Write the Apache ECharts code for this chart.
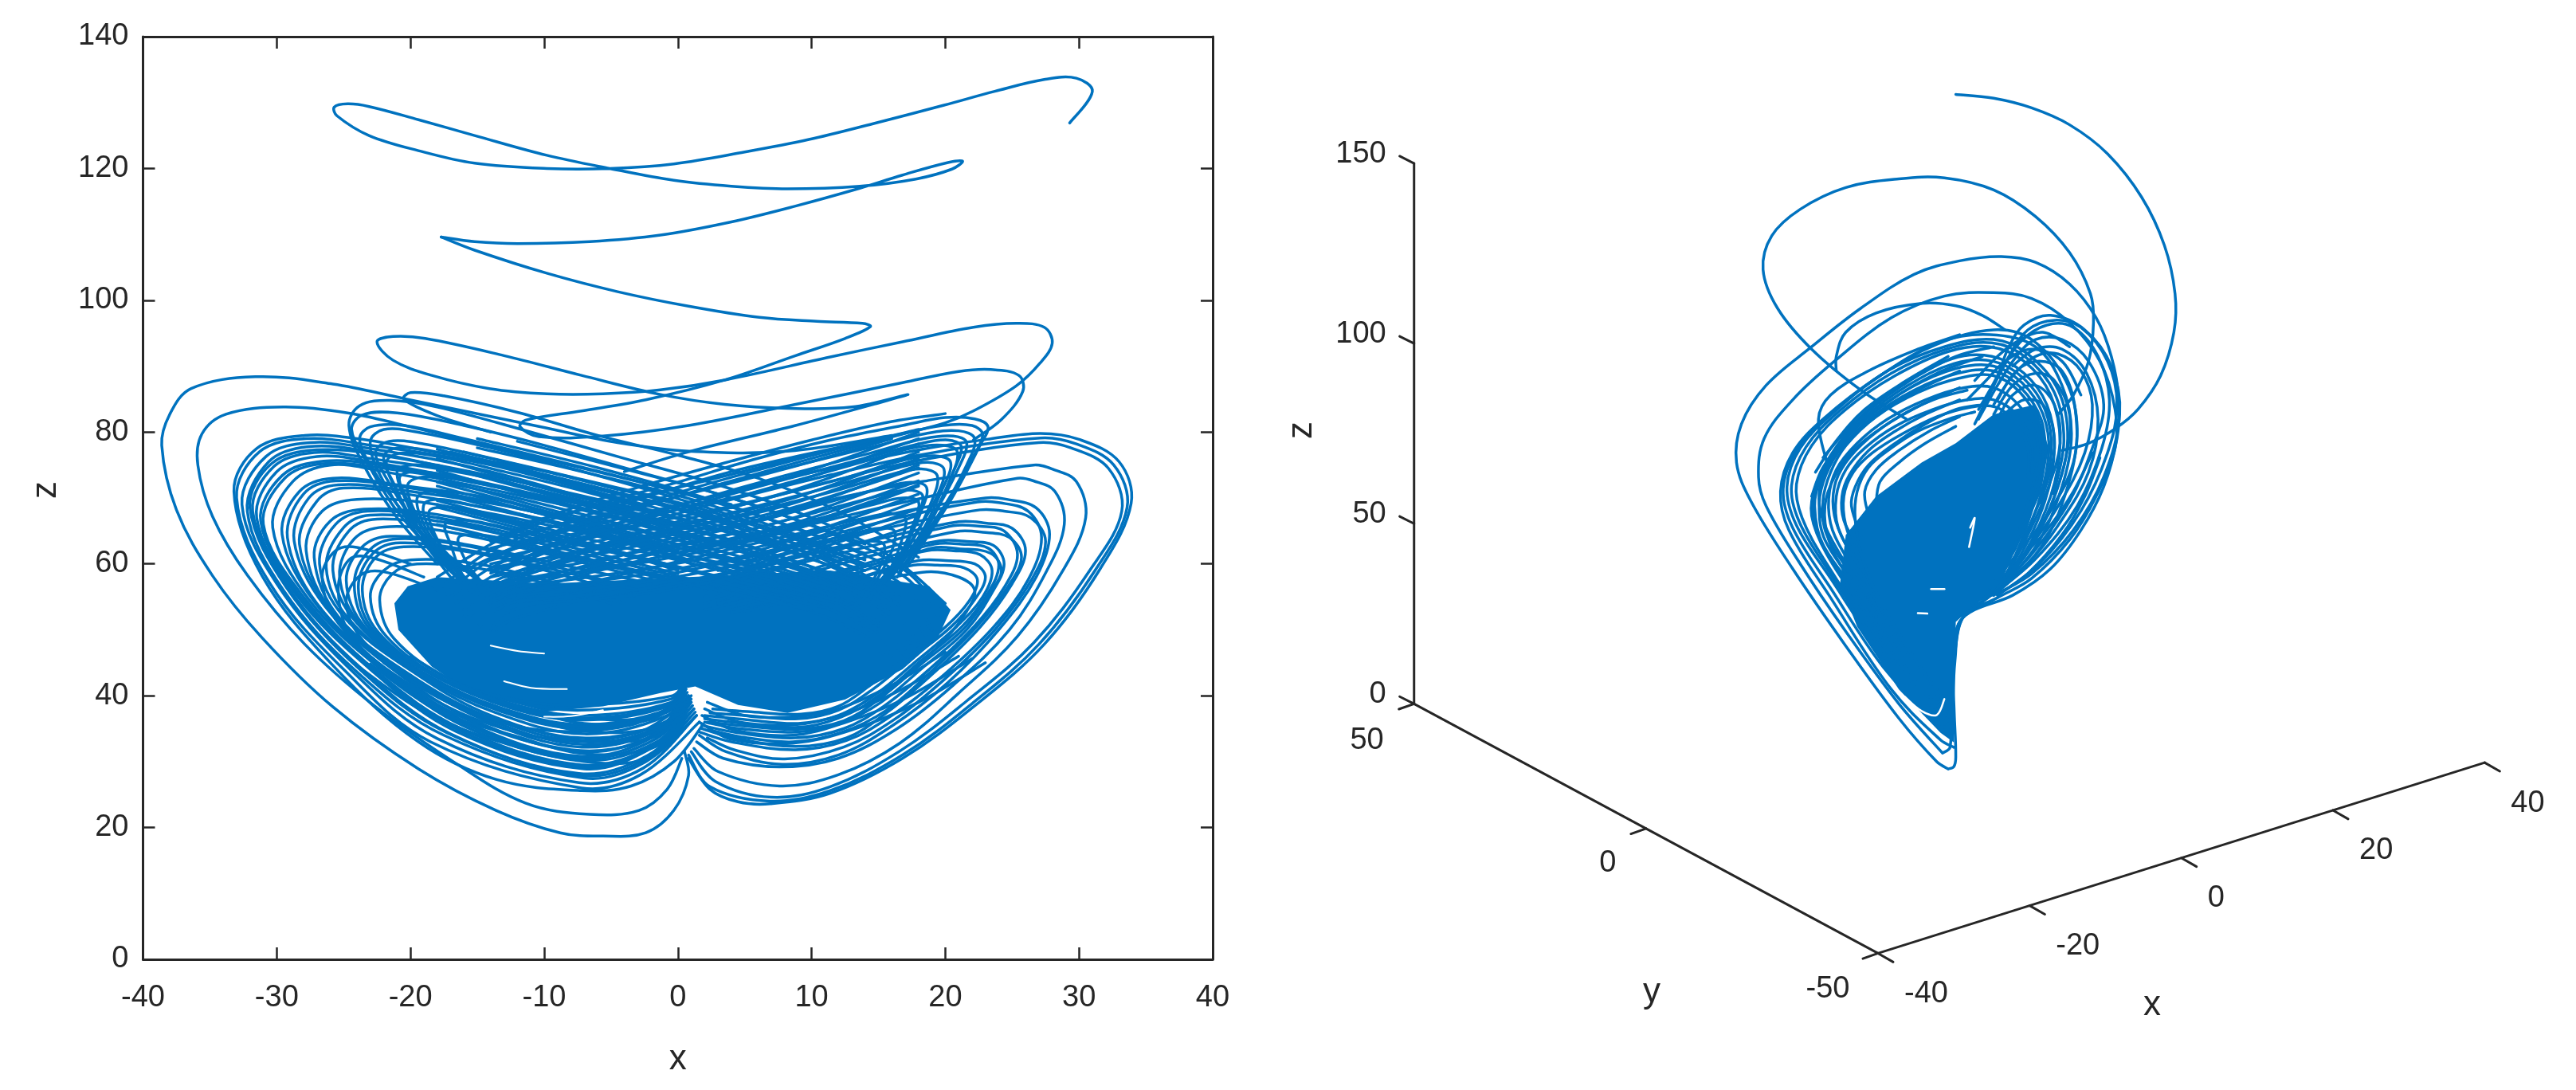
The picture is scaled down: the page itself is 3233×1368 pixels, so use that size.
<!DOCTYPE html>
<html><head><meta charset="utf-8"><style>html,body{margin:0;background:#fff}#c{width:3233px;height:1368px}</style>
<script src="https://cdn.jsdelivr.net/npm/echarts@6/dist/echarts.min.js"></script></head><body><div id="c"></div><script>
const xTicksLeft=[-40,-30,-20,-10,0,10,20,30,40];
const zTicksLeft=[0,20,40,60,80,100,120,140];
const xTicks3d=[-40,-20,0,20,40], yTicks3d=[50,0,-50], zTicks3d=[0,50,100,150];

// left panel (x,z): opening transient
const transientA=[[29.3,126.9],[31,131.7],[29.8,133.7],[27.4,133.5],[23.7,131.7],[19.9,129.6],[14.6,126.8],[9.8,124.4],[5,122.5],[-.3,120.7],[-5.1,120],[-9.8,120],[-15.2,120.8],[-19.4,122.7],[-23.1,125],[-25.5,128],[-25.7,129.3],[-24.7,129.8],[-23.1,129.4],[-19.4,127.4],[-15.2,125],[-9.8,122],[-5.1,120],[-.3,118.2],[4,117.3],[8.2,116.9],[13.6,117.3],[17.8,118.4],[20.5,119.9],[21.3,121.1],[20.2,120.9],[16.8,119],[13.6,117],[8.8,114.3],[4,111.9],[-1.3,109.9],[-6.6,108.9],[-12,108.6],[-15.2,108.9],[-17.7,109.6]];
const transientB=[[-17.7,109.6],[-15.2,107.6],[-9.8,104.1],[-4.5,101.3],[.8,99.1],[6.1,97.4],[10.4,96.8],[13.8,96.5],[14.4,96],[12.5,94.2],[8.8,91.6],[3.5,87.9],[-2.4,84.9],[-7.2,83.2],[-11.4,81.8],[-11.8,80.8],[-10.4,79.3],[-5.6,79.4],[.8,81],[8.8,84.2],[16.8,87.5],[21,89.2],[23.4,89.5],[25.5,88.6],[25.8,86.2],[24.2,81.9],[22.1,78.8]];
const transientC=[[-4,74],[.8,77],[8.8,81],[14.6,84.2],[17.2,85.7],[13,83.8],[8.2,83.6],[3.5,84.2],[-1.3,85.7],[-7.2,88.6],[-13,91.6],[-18.9,94.2],[-21.3,94.5],[-22.5,93.7],[-21.3,90.9],[-18.4,88.6],[-14.1,86.6],[-9.8,85.8],[-5.6,85.8],[-1.3,86.4],[3.5,87.9],[11.4,91.4],[16.8,93.7],[22.1,95.9],[25.3,96.5],[27.4,95.9],[28,93.5],[27.1,90.5],[25.3,87],[22.1,83.2],[20,81.4],[16.8,79.7],[10,76],[3,72]];
const outerLeft1=[[.5,31.5],[.8,27.9],[-.3,22.6],[-2.4,19.2],[-5.6,18.7],[-8.8,19.2],[-13.6,22.6],[-19.4,28.9],[-25.8,38.3],[-31.1,48.8],[-34.8,58.2],[-37.5,68.2],[-38.6,78],[-38,82.7],[-36.4,86.6],[-31.6,88.4],[-25.8,87.3],[-20.5,85.1],[-9.8,80.6],[-4.5,78.4],[.8,77.1],[8.2,77.1],[16,79.5]];
const outerLeft2=[[.3,30.5],[-.8,25.8],[-2.9,22.6],[-6.6,22],[-11.4,23.7],[-16.8,30],[-22.6,38.3],[-27.9,47.8],[-32.2,58.3],[-34.8,67.2],[-35.9,75],[-35.6,79.7],[-33.8,82.7],[-29.5,83.8],[-24.7,82.9],[-19.4,80.5],[-9.8,75.8],[-3,72.5],[4,69]];

const leftLobes=[
[[-4.5,71.3],[-9.8,74],[-18.3,77],[-24,79],[-27.9,79.5],[-31.5,77.5],[-33.2,71],[-31.1,58.2],[-25.8,44.6],[-19.4,33],[-13.6,27.3],[-7.2,25.6],[-3.5,26.3],[-.3,30],[1.9,35.7]],
[[-3,69],[-14,75],[-23,78],[-27.8,79],[-31.3,77],[-33,70],[-30.5,57],[-25,44],[-18.5,33],[-7.2,26],[-2.8,28],[1.6,36]],
[[-2,67],[-14,74],[-23,77.5],[-27.5,78.4],[-30.8,76.3],[-32.6,69],[-30,57],[-24.6,44.2],[-18,33.5],[-7.4,26.8],[-2.6,29],[1.4,37]],
[[-1,66],[-14,73],[-23,77],[-27.6,77.8],[-30.6,75.5],[-32.2,68],[-29.5,56],[-24,43.6],[-17.5,34],[-7,27.5],[-2.4,30],[1.4,37]],
[[0,65],[-13,72.5],[-23,76],[-27.2,76.9],[-30.2,74.8],[-31.8,68],[-29,56],[-23.6,44],[-17,34.2],[-7.4,28.2],[-2.2,31],[1.2,38]],
[[1,64],[-13,71.5],[-23,75.5],[-27,76.3],[-30,74],[-31.5,67],[-28.6,55.5],[-23,44],[-16.6,34.6],[-7,28.9],[-2,32],[1.2,38]],
[[2,63],[-12,71],[-22,74.5],[-26.6,75.2],[-29.4,73],[-31,66],[-28,55],[-22.6,43.8],[-16.2,35],[-7.2,29.5],[-1.8,32.5],[1,39]],
[[3,62],[-12,70],[-22,74],[-26,75],[-28.8,72.5],[-30.3,65.5],[-27.6,54.6],[-22.2,44],[-15.8,35.2],[-7,30.2],[-1.6,33],[1,39]],
[[-1,63],[-12,68.5],[-20,71.5],[-25.6,72.6],[-28,70.6],[-29.2,64],[-27,54],[-21.8,44],[-15.4,35.6],[-7.2,30.8],[-1.6,34],[1,40]],
[[0,62],[-11,68],[-20,71],[-25.4,72],[-27.6,70],[-28.7,63.5],[-26.4,53.6],[-21.2,43.8],[-15,36],[-7,31.5],[-1.4,34.5],[.8,40]],
[[1,60.5],[-11,67],[-20,70.5],[-25,71.5],[-27,69.5],[-28.3,63],[-26,53],[-20.8,43.8],[-14.6,36.4],[-7.2,32.2],[-1.2,35],[.8,40]],
[[-1,60],[-10,64],[-18,67.5],[-23.5,68.3],[-26,66.5],[-27.2,61],[-25.4,52],[-20.2,43.4],[-14.2,36.8],[-7,33],[-1.2,35.5],[.6,41]],
[[0,58.5],[-10,63.5],[-18,67],[-23.2,68],[-25.6,66],[-26.8,60],[-25,52],[-19.8,43.6],[-14,37],[-7.2,33.6],[-1,36],[.6,41]],
[[-2,59],[-10,63],[-18,66.5],[-23,67.4],[-25,65.5],[-26.3,59.5],[-24.6,51.6],[-19.4,43.2],[-13.6,37.4],[-7,34.2],[-.8,37],[.6,41]],
[[-1,58],[-10,62],[-17,65.5],[-22.5,66.8],[-24.6,65],[-25.8,59],[-24,51],[-19,43],[-13.2,37.6],[-7.2,35],[-.8,37.5],[.5,41]],
[[-2,57],[-9,60],[-16,63],[-21.5,64.2],[-23.6,62.6],[-24.8,57.5],[-23.4,50.4],[-18.6,43],[-13,38],[-7,35.6],[-.6,38],[.5,41]],
[[-3,56],[-9,59.5],[-16,62.8],[-21,63.8],[-23,62.2],[-24.2,57],[-23,50],[-18.2,43],[-12.6,38.2],[-7.2,36.3],[-.6,38.5],[.5,42]],
[[-3,55],[-9,58.5],[-15,61.6],[-20.5,62.6],[-22.6,61],[-23.6,56],[-22.4,49.6],[-17.8,42.6],[-12.2,38.6],[-7,37],[-.5,39],[.5,42]],
[[-4,54],[-9,57],[-15,60],[-20,60.6],[-22,59],[-23,55],[-21.8,49],[-17.4,42.4],[-12,39],[-7.2,37.8],[-.5,39.5],[.5,42]],
[[-5,54],[-9,56.5],[-14,59],[-19.5,60],[-21.4,58.4],[-22.3,54.5],[-21.2,48.6],[-17,42.4],[-11.6,39.2],[-7,38.6],[-.4,40],[.5,42]],
[[2,66],[-12,72.5],[-22,76.4],[-27,77.3],[-30.4,75.2],[-32,68.5],[-29.3,56.5],[-23.8,44],[-17.3,34.4],[-7.2,27.9],[-2.3,30.5],[1.3,37.5]],
[[3,65],[-12,71],[-22,74.9],[-26.5,75.6],[-29.6,73.4],[-31.2,66.5],[-28.3,55.2],[-22.8,44],[-16.4,34.8],[-7.1,29.2],[-1.9,32.2],[1.1,38.5]],
[[1,60],[-12,69],[-21,72],[-25.8,73],[-28.3,71],[-29.6,64.5],[-27.2,54.3],[-22,44],[-15.6,35.4],[-7.1,30.5],[-1.6,33.5],[1,39.5]],
[[0,59],[-10,65],[-18,69],[-24,69.8],[-26.6,68],[-27.8,62],[-25.8,52.6],[-20.5,43.6],[-14.4,36.6],[-7.1,32.6],[-1.2,35.2],[.7,40.5]],
[[-2,57.6],[-10,61.6],[-17,64.8],[-22,65.6],[-24.2,63.8],[-25.3,58.2],[-23.7,50.7],[-18.8,43],[-13.1,37.8],[-7.1,35.3],[-.7,37.8],[.5,41]],
[[-3,56],[-9,59],[-15.5,62],[-20.8,63.2],[-22.8,61.6],[-23.9,56.5],[-22.7,49.8],[-18,42.8],[-12.4,38.4],[-7.1,36.6],[-.5,38.8],[.5,42]],
[[-20,60],[-24,62.5],[-25.6,62],[-26.6,58],[-25.4,51],[-20.6,42.2],[-15.2,35.9],[-8,31.8],[-3,32.8],[0,37]],
[[-19,58],[-23,61],[-24.6,60.6],[-25.4,56],[-24.4,49],[-20,41.6],[-14.8,36.2],[-8.4,33.2],[-3,34.4],[0,38]],
[[-18,56],[-22,58.8],[-23.8,58.2],[-24.8,54],[-23.4,48],[-19.2,41.2],[-14,36.4],[-9,34.6],[-3.4,35.6],[0,39]]
];
const rightLobes=[
[[.8,30.5],[2.4,25.8],[4.5,23.9],[6.9,23.6],[11.4,25.2],[16.8,30.5],[22.1,38.3],[27.4,47.8],[31.6,59.3],[33.9,69.2],[33,75.5],[30,78.9],[27.1,79.8],[23.1,78.9],[18.3,77.4],[11.4,74.5],[3.5,70.8]],
[[.8,31],[2.4,26.2],[6.9,24],[11.4,25.6],[16.8,31],[22,38.8],[27,47.8],[31.2,59],[33.6,68.6],[32.6,75],[29.8,78.2],[27.1,79.1],[18.3,76.6],[11.4,73.5],[3.5,69.5]],
[[1,31.5],[2.8,27],[7,24.6],[11.4,26.2],[16.6,31.6],[21.6,39.2],[26.6,48],[30.8,59],[33.2,68],[32.2,74.5],[29.4,77.6],[27,78.4],[18.3,75.8],[11.4,72.5],[4,68.5]],
[[1.2,32],[3,28.5],[7.6,26.3],[12,28],[16.6,32.8],[21,40.4],[25.4,49],[28.8,59],[30.5,67],[29.8,72.5],[28,74.4],[26.6,75],[18.3,72.5],[11,69.5],[4,65.5]],
[[1.4,33],[3.4,30.5],[7.6,29.2],[12,30.5],[16.4,35],[20.6,41.6],[24.8,50],[27.6,59],[28.9,66],[28.2,71],[26.6,72.6],[25.4,73],[18.3,70],[11,66.5],[4,63]],
[[1.6,34],[3.6,31.5],[7.8,29.6],[12,31],[16,35.4],[20.2,42],[24,50],[26.8,58],[27.8,64.5],[26.8,68.5],[24.6,69.8],[23,70],[17,68],[10,64.5],[3,60]],
[[1.6,34.5],[4,33],[8.8,31.8],[12.6,33.2],[16,37],[19.8,43],[23.6,50.4],[26.2,57.6],[27.2,64],[26.2,68],[24,69.3],[22.4,69.4],[16.5,67],[10,63.5],[3,59]],
[[1.8,35],[4.2,33.6],[8.8,32.3],[12.6,33.6],[15.6,37.4],[19.2,43.6],[22.6,50.4],[25,57],[26,62],[25,65.4],[23,66.2],[21,66.4],[15.5,64],[9,61],[2,57]],
[[1.8,35.5],[4.4,34.4],[8.8,33.6],[12.4,35],[15.4,38.4],[18.8,44],[22.2,50.6],[24.4,56.4],[25.4,61.4],[24.4,65],[22.6,65.7],[20.6,65.8],[15,63],[9,60],[2,56]],
[[2,36],[4.6,35],[8.8,34.5],[12.2,35.8],[15.2,39],[18.4,44.4],[21.6,50],[23.6,56],[24.4,60],[23.6,62.8],[21.6,63.4],[19.6,63.5],[14,61],[8,57.5],[2,54]],
[[2,36.5],[4.8,35.8],[9,35.2],[12,36.6],[15,39.8],[18,45],[21.2,50.4],[23.2,55.6],[24,59.8],[23.2,62.4],[21.2,63],[19.2,63],[14,60],[8,56.5],[3,54]],
[[2,37],[5,36.4],[9,35.8],[12,37],[14.8,40.2],[17.8,45.2],[20.8,50.4],[22.8,55],[23.5,59],[22.6,61.4],[20.6,62],[18.6,62],[13,59],[8,56],[3,53.6]],
[[2.4,37.4],[5,37],[9,36.5],[12,37.8],[14.6,41],[17.4,45.6],[20.4,50.4],[22.2,54.6],[23,58],[22.2,60],[20,60.5],[18,60.5],[13,57.6],[8,55],[4,53]],
[[2.6,38],[5.2,37.6],[9.2,37.2],[12,38.4],[14.4,41.6],[17.2,46],[20,50.4],[21.8,54.4],[22.4,57.6],[21.4,59.4],[19.4,59.8],[17.6,59.8],[12,57],[8,54.4],[4,52.6]],
[[2.2,33.6],[4.2,31.8],[8,30.4],[12.4,32.2],[16.2,36.4],[20,42.6],[23.8,50.2],[26.4,57.4],[27.5,63.4],[26.4,67],[24.4,68],[22.6,68.2],[16,65.6],[9,62],[3,58]],
[[2.4,34.8],[4.6,33.8],[8.6,33],[12.2,34.4],[15.6,37.8],[19,43.8],[22.4,50.6],[24.7,56.6],[25.7,61],[24.8,64],[22.8,64.8],[20.8,64.9],[14,61.6],[8,58],[2,55]],
[[2.2,36],[5,35.4],[9,34.9],[12.4,36.2],[15,39.4],[18.2,44.8],[21.4,50.2],[23.4,55.8],[24.2,59],[23.4,61.6],[21,62.3],[19,62.4],[13,58.4],[7,55.4],[2,53]],
[[14,38.6],[17,43],[20,48.6],[21.6,52.8],[22.2,56],[21,58],[18.6,58.8],[14,57],[9,54.6],[5,52.8]]
];
const leftWings=[
[[-18,60],[-21,67],[-23.5,75],[-24.6,81],[-23.8,84],[-21.5,84.8],[-18,83.8],[-11,80],[-4,76],[3,72],[10,67],[16,61],[20,54]],
[[-17.5,60],[-21,68],[-23.4,76],[-24.4,80.4],[-23.6,82.6],[-21,82.9],[-16,81],[-10,78],[-3,74],[4,70],[11,65],[17,59],[20,52]],
[[-17,60],[-20.6,68],[-23,75],[-23.8,79],[-23,80.8],[-20.5,81],[-16,79],[-9,75.6],[-2,72],[5,68],[12,63],[17,58],[19.5,52]],
[[-17,58],[-20,66],[-22.4,74],[-23,78.6],[-22,80.4],[-19.5,80],[-14,77.6],[-8,74.5],[-1,70.5],[6,66],[12,61.6],[17,56.5],[19,50]],
[[-16.5,58],[-19.6,66],[-21.8,73],[-22.6,77],[-21.6,78.6],[-19,78.2],[-14,76],[-7,72.6],[0,69],[6,65],[12,60.4],[16.5,55],[19,50]],
[[-16,57],[-19,64],[-21,71],[-21.8,75.4],[-20.8,76.8],[-18,76.3],[-13,74],[-7,71],[0,67],[7,63],[12.5,58.6],[16.6,53.6],[18.6,49]],
[[-15.5,56],[-18.4,62],[-20.2,69],[-21,74],[-20,75],[-17.6,74.6],[-12,72],[-6,69],[1,65.4],[7,61.6],[12,57.8],[16,53],[18,48]],
[[-15,56],[-18,62],[-19.6,67.6],[-20.2,72],[-19,73.2],[-16.6,72.4],[-11,70],[-5,67.4],[1,64],[7,60.4],[12,56.6],[15.6,52],[17.4,48]],
[[-15,55],[-17.4,61],[-19,66],[-19.5,70],[-18.4,71],[-16,70.2],[-11,68],[-5,65.4],[1,62.4],[6.5,59],[11.5,55.4],[15,51],[17,47]],
[[-14.5,55],[-16.8,60],[-18.2,64.6],[-18.6,68],[-17.4,68.6],[-15,68],[-10,66],[-4,63.2],[2,60],[7,57.4],[12,54],[15,50],[17,46]],
[[-14,54],[-16,58],[-17,63],[-17.4,66],[-16,66.6],[-14,66],[-9,63.6],[-3,61],[2,58.6],[7,56],[11.5,53],[14.6,49.6],[16,46]],
[[-13,54],[-15,58],[-16,61],[-16.4,64],[-15,64.4],[-13,63.8],[-8,61.4],[-3,59],[2,57],[7,54.6],[11,52],[14,49],[15.5,46]],
[[-14,80],[-18,82.5],[-20.5,85],[-20,86],[-17.5,85.5],[-12,83],[-6,79.5],[0,76.5],[6,73],[12,68],[18,61]],
[[-16,59],[-19.4,65],[-21.2,72],[-22,76.2],[-21,77.6],[-18.6,77.2],[-13.4,75],[-7,71.8],[.4,68],[6.6,64],[12,59.6],[16,54.4]],
[[-15,58],[-18.6,64],[-20.4,70.4],[-20.8,73.2],[-19.6,74],[-17,73.4],[-11.6,71],[-5.6,68.2],[.8,64.6],[7,61],[12,57.2],[15.8,52.4]],
[[-14,56],[-17,61],[-18.6,65.4],[-19,69],[-17.8,69.8],[-15.6,69],[-10.6,67],[-4.6,64.2],[1.4,61],[7,58.2],[11.8,54.8],[15,50.6]]
];
const rightWings=[
[[17,59],[20.5,70],[22.6,78],[23.2,80.8],[22.2,82],[20,82.2],[16.8,81],[11.4,78.8],[5.6,75.8],[0,72.4],[-6,69],[-13,64],[-18,58]],
[[16.6,59],[20,69],[22,76],[22.8,79.6],[22,81],[19.8,81],[16,79.4],[10,76.8],[4,74],[-2,70.4],[-8,66.6],[-14,62],[-18,56]],
[[16.4,58],[19.6,67.6],[21.6,75],[22.2,79],[21,80.2],[18.6,79.8],[15,78],[9,75],[3,72],[-3,68.4],[-9,64.6],[-14,60.6],[-17.6,55]],
[[16,58],[19,67],[21,74.6],[21.6,78.4],[20.6,79.4],[18.4,79],[14,76.6],[8,73.4],[2,70],[-4,66.4],[-9.5,63],[-14,59.4],[-17,55]],
[[15.6,57],[18.6,65.6],[20.4,73],[20.9,77],[19.8,78],[17.6,77.6],[13,75],[7,71.6],[1,68.2],[-5,64.8],[-10,61.6],[-14,58],[-16.6,54]],
[[15.4,57],[18,64],[19.8,71.4],[20.4,75.4],[19.2,76.4],[17,75.8],[12.4,73],[6,69.6],[0,66.4],[-5.6,63],[-10.4,60],[-14,57],[-16,53]],
[[15,56],[17.4,63],[19,69.6],[19.4,73.4],[18.2,74.4],[16,73.6],[11.6,71],[5,67.6],[-1,64.6],[-6,61.6],[-10.6,58.8],[-14,56],[-16,52]],
[[14.6,56],[16.8,62],[18.2,68],[18.6,71.6],[17.4,72.4],[15,71.4],[10.6,69],[4.4,65.6],[-1.6,62.8],[-6.4,60],[-10.8,57.6],[-14,55],[-15.6,52]],
[[14.4,55],[16.4,60.4],[17.6,66],[18,69.4],[16.8,70],[14.6,69],[10,66.6],[4,63.6],[-2,60.8],[-7,58.4],[-11,56],[-14,53.6],[-15,51]],
[[14,55],[15.8,59],[16.8,64],[17,67],[15.8,67.6],[13.6,66.8],[9,64.6],[3.4,62],[-2.4,59.2],[-7,57],[-11,55],[-13.6,53],[-15,50]],
[[13.6,54],[15,58],[16,62],[16.2,65],[15,65.4],[12.8,64.4],[8.4,62.4],[3,60],[-2.6,57.6],[-7,55.8],[-10.6,54],[-13,52.4],[-14,50]],
[[13,54],[14.4,57],[15.2,60],[15.4,63],[14,63.4],[12,62.6],[8,60.6],[3,58.4],[-2,56.4],[-6.6,54.8],[-10,53],[-12.6,51.4],[-13.6,50]],
[[15.8,58],[18.8,66],[20.6,74],[21.2,77.8],[20.2,78.8],[18,78.2],[13.6,75.8],[7.6,72.6],[1.6,69.2],[-4.4,65.6],[-9.8,62.4],[-14,58.6]],
[[15.2,57],[17.8,64.6],[19.4,70.4],[19.9,74.4],[18.7,75.4],[16.5,74.6],[12,72],[5.6,68.6],[-.4,65.4],[-5.8,62.4],[-10.5,59.4],[-14,56.6]],
[[14.4,56],[16.6,61],[17.9,67],[18.3,70.4],[17.1,71.2],[14.8,70.2],[10.3,67.8],[4.2,64.6],[-1.8,61.8],[-6.7,59.2],[-10.9,56.8],[-14,54.4]],
[[20,82.8],[16,81.6],[10,78.8],[4,75.6],[-2,72.2],[-8,68.4],[-14,63.6]],
[[18,80.4],[13,78],[7,74.8],[1,71.4],[-5,67.6],[-11,63.6],[-16,59]]
];
const crossDown=[
[[-18,66],[-8,61],[2,56.4],[10,53]],[[-18,67],[-8,62],[2,57.2],[11,53.4]],[[-18,68.6],[-8,63.4],[2,58.4],[11,54]],[[-18,69.6],[-8,64.4],[2,59.6],[12,54.4]],
[[-18,70.8],[-8,65.6],[2,60.6],[12,55]],[[-18,71.8],[-8,66.4],[2,61.4],[12,55.8]],[[-18,73],[-8,67.4],[2,62.6],[13,56]],[[-18,74.2],[-8,68.6],[2,63.6],[13,56.8]],
[[-18,75],[-8,69.6],[2,64.6],[13,57.6]],[[-18,76],[-8,70.4],[2,65.8],[14,58]],[[-18,77.4],[-8,72],[2,66.4],[14,59]],[[-17,77],[-8,72.6],[2,67.4],[14,59.6]],
[[-16,77],[-8,73.2],[2,68.2],[14,60]],[[-15,77.6],[-8,74.4],[2,69.2],[14,60.6]],[[-15,79],[-6,74.6],[3,69.4],[14,61.6]],[[-12,78.6],[-4,74.4],[4,70],[14,63]],
[[-18,72.4],[-8,67],[3,61.4],[12,56.4]],[[-18,69],[-8,63.8],[3,58],[12,54]]
];
const crossUp=[
[[-12,53.8],[-2,55.6],[8,59.8],[18,66]],[[-12,54.4],[-2,56.4],[8,60.8],[18,67.4]],[[-12,55.2],[-2,57.4],[8,61.6],[18,68.4]],[[-12,55.8],[-2,58.6],[8,62.6],[18,69.6]],
[[-12,56.6],[-2,59.4],[8,63.6],[18,70.6]],[[-12,57.4],[-2,60.4],[8,64.8],[18,71.8]],[[-13,57.2],[-2,61.4],[8,65.8],[18,72.6]],[[-13,58],[-2,62.2],[8,66.6],[18,73.8]],
[[-14,58],[-2,63.2],[8,67.8],[18,75]],[[-14,59],[-2,64.4],[8,68.8],[18,76]],[[-14,60],[-2,65.2],[8,69.6],[18,77]],[[-14,60.6],[-2,66.2],[8,70.8],[18,78.2]],
[[-14,61.4],[-2,67.4],[8,72],[18,79]],[[-14,62.4],[-2,68],[8,73],[18,80]],[[-14,63.4],[-2,69.2],[8,74.4],[16,79]],[[-12,66],[-2,70.6],[8,75.6],[15,79]],
[[-14,59.4],[-2,63.8],[8,68.2],[18,74.6]],[[-13,56.8],[-2,60.8],[8,65.2],[18,72]]
];
const lowerArcs=[
[[-24,44.6],[-19,37.6],[-13,32.8],[-7,30],[-2.4,30.4],[.4,35]],[[-23,44.8],[-18,37.8],[-12,33.8],[-7,31.2],[-2,32],[.6,36]],[[-22,45],[-17,38.8],[-11.6,35.2],[-7,33.2],[-2,33.6],[.6,37]],
[[-21,45.4],[-16,40],[-11,36.6],[-7,34.6],[-2,35],[.6,38]],[[-20,46],[-15.6,41],[-11,38],[-7,36.6],[-2.4,36.6],[.6,39]],[[-21.6,47],[-16.4,41.4],[-11,37.8],[-7,35.8],[-2,36.4],[.6,40]],
[[23,45],[18,39],[13,34.8],[8.6,32.8],[4,33.4],[1.6,36]],[[22,45.6],[17,39.6],[12.6,36],[8.6,34],[4.2,34.8],[1.8,37]],[[21,46],[16.4,40.6],[12.4,37.2],[8.8,35.6],[4.6,36],[2,38]],[[20,46.6],[16,41.6],[12,38],[8.8,36.8],[5,37],[2.2,39]]
];
const coreLeft=[[-21.2,54],[-20.9,50],[-18.4,44.4],[-15.6,40.6],[-9.8,37.6],[-5.6,38.4],[-1.3,40.4],[1.3,41.4],[4.5,38.6],[8.2,37.4],[12.5,39.4],[16.8,44],[19.4,48.6],[20.4,53],[18.8,56.6],[11.4,59],[.8,58],[-9.8,57],[-18,58],[-20.2,56.6]];
const slitsLeft=[[[-13,42.2],[-11,41.2],[-8.3,41]],[[-10,36.8],[-8,36.9],[-5.6,37.8]],[[-14,47.6],[-12,46.8],[-10,46.4]]];

// right panel: trajectory read as horizontal / vertical view coordinates of the 3-D projection
const view3dA=[[850,47],[950,55],[1050,75],[1150,110],[1250,170],[1340,260],[1400,360],[1428,460],[1425,540],[1390,630],[1330,700],[1270,740],[1200,770],[1130,785]];
const view3dB=[[720,720],[600,660],[470,575],[380,490],[342,410],[365,340],[440,285],[560,240],[700,222],[820,220],[950,245],[1060,300],[1150,375],[1205,460],[1213,520],[1200,600],[1160,670],[1120,710]];
const view3dC=[[830,1445],[800,1430],[700,1340],[560,1190],[420,1030],[310,890],[272,810],[285,730],[350,650],[470,570],[600,490],[740,420],[860,392],[970,383],[1060,395],[1150,440],[1220,510],[1260,590],[1280,680],[1275,760],[1240,860],[1180,950],[1100,1030],[1000,1085],[900,1115],[860,1140],[848,1180],[843,1250],[846,1330],[850,1420],[845,1440],[830,1445]];
const view3dD=[[815,1412],[700,1310],[560,1160],[440,1020],[350,900],[330,840],[345,760],[420,680],[530,600],[680,510],[820,465],[950,458],[1050,470],[1150,520],[1230,600],[1270,700],[1270,780],[1220,880],[1150,970],[1050,1050],[960,1090],[870,1130],[848,1220],[835,1400],[815,1412]];
const view3dE=[[535,620],[535,590],[560,540],[640,500],[760,480],[850,485],[920,505],[980,535]];
const view3dF=[[510,810],[488,720],[520,670],[620,620],[750,575],[860,545]];
const bodyLoops=[
[[845,1400],[810,1385],[680,1280],[520,1090],[410,950],[388,870],[420,790],[500,720],[650,630],[800,565],[950,535],[1050,555],[1140,640],[1170,740],[1145,860],[1075,985],[960,1075],[870,1130],[848,1200]],
[[843,1370],[790,1340],[660,1235],[520,1070],[420,945],[395,865],[430,785],[510,715],[660,625],[810,560],[940,545],[1060,570],[1130,650],[1155,750],[1130,860],[1060,985],[950,1080],[860,1140],[845,1220]],
[[840,1350],[770,1310],[640,1190],[520,1050],[430,940],[405,860],[440,780],[530,705],[670,620],[820,570],[950,555],[1040,585],[1120,660],[1145,760],[1115,870],[1045,990],[950,1080]],
[[835,1330],[760,1290],[630,1160],[510,1020],[445,925],[430,855],[470,775],[560,700],[690,630],[830,580],[940,570],[1030,600],[1100,670],[1125,770],[1100,880],[1030,1000],[950,1085]],
[[830,1320],[740,1260],[620,1130],[510,1000],[470,920],[480,860],[520,795],[590,725],[710,650],[840,595],[945,590],[1030,625],[1090,690],[1110,780],[1085,890],[1015,1010],[945,1085]],
[[820,1310],[720,1230],[610,1100],[500,980],[478,900],[495,840],[540,780],[620,715],[730,655],[850,615],[950,610],[1025,645],[1080,710],[1095,790],[1065,900],[1000,1020],[940,1085]],
[[810,1290],[700,1200],[590,1060],[510,960],[500,890],[520,830],[560,775],[640,715],[750,665],[860,635],[950,630],[1020,665],[1070,730],[1080,800],[1050,910],[990,1030],[930,1090]],
[[800,1280],[690,1170],[580,1030],[525,950],[515,885],[535,825],[590,770],[670,720],[770,680],[870,655],[950,655],[1015,690],[1060,750],[1065,810],[1030,920],[975,1040],[920,1095]],
[[790,1270],[680,1150],[590,1020],[540,945],[535,880],[560,825],[610,780],[690,735],[790,700],[880,680],[950,680],[1010,710],[1050,770],[1050,830]],
[[780,1260],[670,1130],[595,1010],[560,940],[555,880],[580,830],[630,790],[710,750],[800,715],[890,695],[955,695],[1005,725],[1040,780],[1040,840]],
[[770,1250],[660,1110],[605,1010],[585,930],[590,870],[620,820],[680,780],[750,745],[830,720],[900,705]],
[[838,1340],[765,1300],[635,1175],[515,1035],[437,932],[417,858],[455,778],[545,702],[680,625],[825,575],[945,562],[1035,592],[1110,665],[1135,765],[1108,875]],
[[825,1315],[730,1245],[615,1115],[505,990],[474,910],[488,850],[530,788],[605,720],[720,652],[845,605],[948,600],[1028,635],[1085,700],[1102,785],[1075,895]],
[[815,1300],[710,1215],[600,1080],[505,970],[490,895],[508,835],[550,778],[630,715],[740,660],[855,625],[950,620],[1022,655],[1075,720],[1088,795]],
[[640,1130],[560,1040],[515,970],[505,900],[530,840],[580,785],[660,735],[760,690],[860,655]],
[[620,1090],[545,1000],[500,930],[490,870],[515,815],[570,760],[650,705],[750,660],[860,620]],
[[610,1040],[560,980],[530,920],[530,860],[560,810],[620,760],[700,715],[790,680],[880,660]],
[[590,980],[555,930],[550,880],[570,835],[620,785],[690,745],[770,710],[860,680]],
[[600,960],[575,900],[585,860],[620,815],[690,770],[770,730],[850,700],[920,690]],
[[620,920],[610,870],[640,825],[700,785],[780,745],[860,715]],
[[640,900],[650,850],[700,810],[770,770],[850,735]],
[[500,800],[560,745],[650,680],[750,630],[850,590],[950,570]],
[[480,830],[530,770],[610,700],[720,640],[830,590]],
[[470,880],[500,820],[570,750],[680,680],[800,625],[920,590]]
];
const sideLoops=[
[[950,1085],[1050,1040],[1160,950],[1240,840],[1282,710],[1260,610],[1190,535],[1100,505],[1030,525],[990,570],[960,630],[910,700]],
[[960,1085],[1070,1020],[1180,910],[1250,790],[1275,690],[1250,600],[1180,530],[1110,515],[1040,535],[990,590],[950,650],[900,730]],
[[955,1080],[1060,1010],[1170,900],[1235,780],[1255,680],[1225,590],[1160,530],[1090,525],[1020,560],[970,620],[920,700]],
[[950,1080],[1050,1000],[1150,890],[1210,780],[1240,690],[1200,600],[1130,555],[1060,555],[1010,590],[960,650],[910,720]],
[[945,1075],[1030,1000],[1120,900],[1190,790],[1210,690],[1180,620],[1120,585],[1060,590],[1000,630],[950,690]],
[[940,1070],[1010,1000],[1090,920],[1160,810],[1165,700],[1130,620],[1070,600],[1010,620],[960,680]],
[[955,1082],[1040,1020],[1120,940],[1200,830],[1225,720],[1195,625],[1130,575],[1060,575],[1000,610]],
[[970,1070],[1040,990],[1100,900],[1140,800],[1150,710],[1110,640],[1060,625],[1000,650],[950,710]],
[[980,1050],[1040,960],[1090,870],[1125,770],[1110,690],[1060,650],[1000,670],[960,720]],
[[1000,1020],[1050,930],[1095,840],[1110,760],[1080,690],[1030,680],[985,705]],
[[960,1085],[1040,1040],[1130,960],[1190,880],[1230,800]],
[[950,1080],[1020,1010],[1090,950],[1160,870],[1210,790]],
[[960,1070],[1030,1000],[1100,910],[1150,840]],
[[900,640],[960,590],[1010,560],[1080,540],[1150,570]],
[[880,680],[930,640],[980,600],[1050,575],[1130,600],[1180,670]]
];
const coreRight=[[850,1140],[845,1390],[810,1370],[700,1280],[590,1150],[545,1060],[560,960],[640,880],[760,810],[850,770],[950,710],[1060,690],[1095,780],[1075,870],[1010,990],[950,1075],[890,1112]];
const slitsRight=[[[715,1295],[760,1325],[800,1333],[820,1300]],[[888,945],[900,925],[885,985]],[[750,1122],[775,1123]],[[785,1072],[820,1072]]];

const BLUE='#0072BF',INK='#262626',FONT='"Liberation Sans",Arial,sans-serif';
const UMIN=-945,UMAX=2485,VMIN=16.5,VMAX=1998;
// MATLAB-like linear 3-D view of the axis box, in view coordinates
function proj(x,y,z){return [-578+(x+40)*19.99+(50-y)*12.23, 1310-(x+40)*4.94+(50-y)*5.17-z*7.467];}
const frameLines=[
 [proj(-40,50,150),proj(-40,50,0),proj(-40,-50,0),proj(40,-50,0)],
 ...zTicks3d.map(z=>{const p=proj(-40,50,z);return [p,[p[0]-38,p[1]-15]];}),
 ...yTicks3d.map(y=>{const p=proj(-40,y,0);return [p,[p[0]-40,p[1]+11]];}),
 ...xTicks3d.map(x=>{const p=proj(x,-50,0);return [p,[p[0]+40,p[1]+18]];})
];
function lineS(pts,xi,w,color){return {type:'line',xAxisIndex:xi,yAxisIndex:xi,data:pts,showSymbol:false,symbol:'none',silent:true,animation:false,lineStyle:{width:w,color:color,cap:'round',join:'round'},z:3};}
// a smooth curve through the points that were read, placed through the axes' own scales
function curvePath(P,k){
 let d='M'+P[0][0]+' '+P[0][1];
 for(let i=0;i<P.length-1;i++){
  const a=P[Math.max(i-1,0)],b=P[i],c=P[i+1],e=P[Math.min(i+2,P.length-1)];
  const l1=Math.hypot(c[0]-b[0],c[1]-b[1]),l0=Math.hypot(b[0]-a[0],b[1]-a[1])||l1,l2=Math.hypot(e[0]-c[0],e[1]-c[1])||l1;
  const s1=k*l1/(l0+l1), s2=k*l1/(l1+l2);
  d+='C'+(b[0]+(c[0]-a[0])*s1)+' '+(b[1]+(c[1]-a[1])*s1)+' '+(c[0]-(e[0]-b[0])*s2)+' '+(c[1]-(e[1]-b[1])*s2)+' '+c[0]+' '+c[1];
 }
 return d;
}
function curvesS(list,xi,w,color,z){return {type:'custom',xAxisIndex:xi,yAxisIndex:xi,silent:true,animation:false,z:z||3,clip:false,data:list.map(s=>s[0]),
 renderItem:(p,api)=>({type:'path',shape:{pathData:curvePath(list[p.dataIndex].map(q=>api.coord(q)),0.36)},style:{fill:'none',stroke:color,lineWidth:w,lineCap:'round',lineJoin:'round'}})};}
function polyS(pts,xi){return {type:'custom',xAxisIndex:xi,yAxisIndex:xi,silent:true,animation:false,z:2,data:[pts[0]],clip:false,
 renderItem:(p,api)=>({type:'polygon',shape:{points:pts.map(q=>api.coord(q))},style:{fill:BLUE}})};}
function labelS(data,align,dx,dy){return {type:'scatter',xAxisIndex:1,yAxisIndex:1,symbolSize:0,silent:true,animation:false,data:data.map(d=>({value:d.p,label:{formatter:d.t}})),
 label:{show:true,position:'inside',align:align,verticalAlign:'middle',offset:[dx,dy],fontSize:38,fontFamily:FONT,color:INK,textBorderWidth:0,opacity:1},itemStyle:{opacity:1},z:5};}
const W=3.5;
const series=[
 polyS(coreLeft,0),polyS(coreRight,1),
 curvesS([transientA,transientB,transientC,outerLeft1,outerLeft2,...leftLobes,...rightLobes,...leftWings,...rightWings,...crossDown,...crossUp,...lowerArcs],0,W,BLUE),
 curvesS([view3dA,view3dB,view3dC,view3dD,view3dE,view3dF,...bodyLoops,...sideLoops],1,W,BLUE),
 curvesS(slitsLeft,0,2,'#fff',4),
 curvesS(slitsRight,1,2.5,'#fff',4),
 ...frameLines.map(s=>lineS(s,1,3,INK)),
 labelS(zTicks3d.map(z=>({p:proj(-40,50,z),t:String(z)})),'right',-35,-12),
 labelS([{p:proj(-40,50,0),t:'50'}],'right',-38,46),
 labelS([{p:proj(-40,0,0),t:'0'}],'center',-48,44),
 labelS([{p:proj(-40,-50,0),t:'-50'}],'center',-63,45),
 labelS(xTicks3d.map(x=>({p:proj(x,-50,0),t:String(x)})),'left',33,51)
];
const axisLine={show:true,onZero:false,lineStyle:{color:INK,width:3}};
const tick=(len)=>({show:true,inside:true,length:len,lineStyle:{color:INK,width:2.5}});
const lab={show:true,fontSize:38,fontFamily:FONT,color:INK};
const chart=echarts.init(document.getElementById('c'),null,{renderer:'canvas'});
chart.setOption({animation:false,backgroundColor:'#fff',
 grid:[{left:179.5,top:46,width:1342.5,height:1158},{left:1600,top:100,width:1633,height:1200}],
 xAxis:[
  {gridIndex:0,type:'value',min:-40,max:40,interval:10,position:'bottom',axisLine,axisTick:tick(15),splitLine:{show:false},axisLabel:{...lab,margin:30,hideOverlap:false,showMinLabel:true,showMaxLabel:true,formatter:v=>xTicksLeft.includes(v)?String(v):''},name:'x',nameLocation:'middle',nameGap:104,nameTextStyle:{fontSize:44,fontFamily:FONT,color:INK}},
  {gridIndex:1,type:'value',min:UMIN,max:UMAX,show:false},
  {gridIndex:0,type:'value',min:-40,max:40,interval:10,position:'top',axisLine,axisTick:tick(15),axisLabel:{show:false},splitLine:{show:false}}
 ],
 yAxis:[
  {gridIndex:0,type:'value',min:0,max:140,interval:20,position:'left',axisLine,axisTick:tick(15),splitLine:{show:false},axisLabel:{...lab,margin:18,padding:[10,0,0,0],formatter:v=>zTicksLeft.includes(v)?String(v):''},name:'z',nameLocation:'middle',nameGap:100,nameRotate:90,nameTextStyle:{fontSize:44,fontFamily:FONT,color:INK,padding:[0,0,0,20]}},
  {gridIndex:1,type:'value',min:VMIN,max:VMAX,inverse:true,show:false},
  {gridIndex:0,type:'value',min:0,max:140,interval:20,position:'right',axisLine,axisTick:tick(15),axisLabel:{show:false},splitLine:{show:false}}
 ],
 series,
 graphic:[
  {type:'text',left:2690,top:1240,style:{text:'x',font:'44px '+FONT,fill:INK}},
  {type:'text',left:2062,top:1224,style:{text:'y',font:'44px '+FONT,fill:INK}},
  {type:'text',x:1634,y:540,rotation:Math.PI/2,style:{text:'z',font:'44px '+FONT,fill:INK,align:'center',verticalAlign:'middle'}}
 ]
});
</script></body></html>
